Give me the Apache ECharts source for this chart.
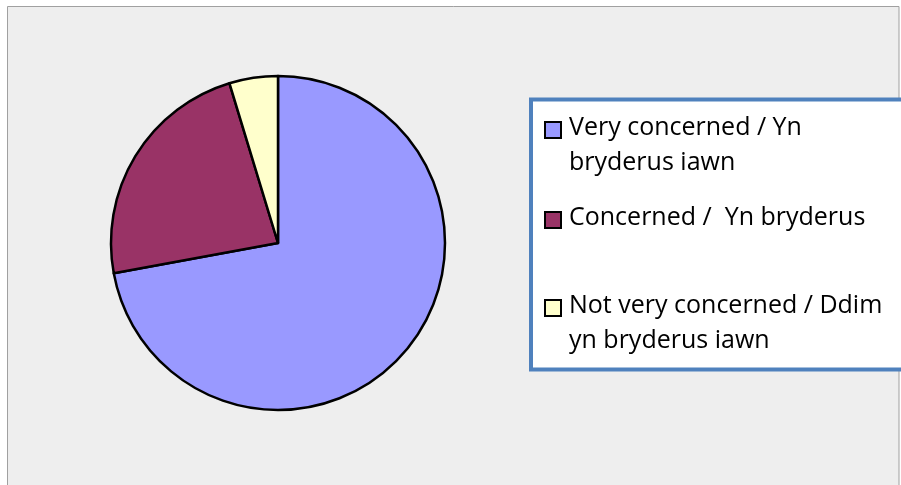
<!DOCTYPE html>
<html>
<head>
<meta charset="utf-8">
<script src="https://cdn.jsdelivr.net/npm/echarts@6/dist/echarts.min.js"></script>
<style>
    html, body { margin: 0; padding: 0; background: #fff; }
    #chart { width: 901px; height: 485px; }
</style>
</head>
<body>
<div id="chart"></div>
<script>
var categories = ['Very concerned / Yn\nbryderus iawn', 'Concerned /  Yn bryderus', 'Not very concerned / Ddim\nyn bryderus iawn'];
var values = [72.1, 23.2, 4.7];
var colors = ['#9999FF', '#993366', '#FFFFCC'];
// legend row tops (y of first text line)
var legendTops = [110, 200, 288];

var myChart = echarts.init(document.getElementById('chart'));

function eachItem(arr, fn) { for (var i = 0; i < arr.length; i++) fn(arr[i], i); }

var pieData = [];
eachItem(categories, function (name, i) {
    pieData.push({ name: name, value: values[i], itemStyle: { color: colors[i] } });
});

var graphics = [
    {
        type: 'rect', z: -10, silent: true,
        shape: { x: 7.5, y: 6.5, width: 891.5, height: 500 },
        style: { fill: '#EEEEEE', stroke: '#A0A0A0', lineWidth: 1 }
    },
    {
        type: 'rect', z: 10, silent: true,
        shape: { x: 531, y: 99.5, width: 380, height: 270 },
        style: { fill: '#FFFFFF', stroke: '#4F81BD', lineWidth: 4 }
    }
];
eachItem(categories, function (name, i) {
    graphics.push({
        type: 'rect', z: 11, silent: true,
        shape: { x: 545, y: legendTops[i] + 12, width: 16, height: 16 },
        style: { fill: colors[i], stroke: '#000', lineWidth: 2 }
    });
    graphics.push({
        type: 'text', z: 11, silent: true,
        x: 569, y: legendTops[i],
        style: {
            text: name,
            fill: '#000',
            font: '25px "Open Sans"',
            lineHeight: 35,
            verticalAlign: 'top'
        }
    });
});

var option = {
    animation: false,
    backgroundColor: '#fff',
    graphic: graphics,
    series: [{
        type: 'pie',
        center: [278, 243],
        radius: 167,
        startAngle: 90,
        clockwise: true,
        label: { show: false },
        labelLine: { show: false },
        emphasis: { disabled: true },
        itemStyle: { borderColor: '#000', borderWidth: 2.5 },
        data: pieData
    }]
};
myChart.setOption(option);
</script>
</body>
</html>
